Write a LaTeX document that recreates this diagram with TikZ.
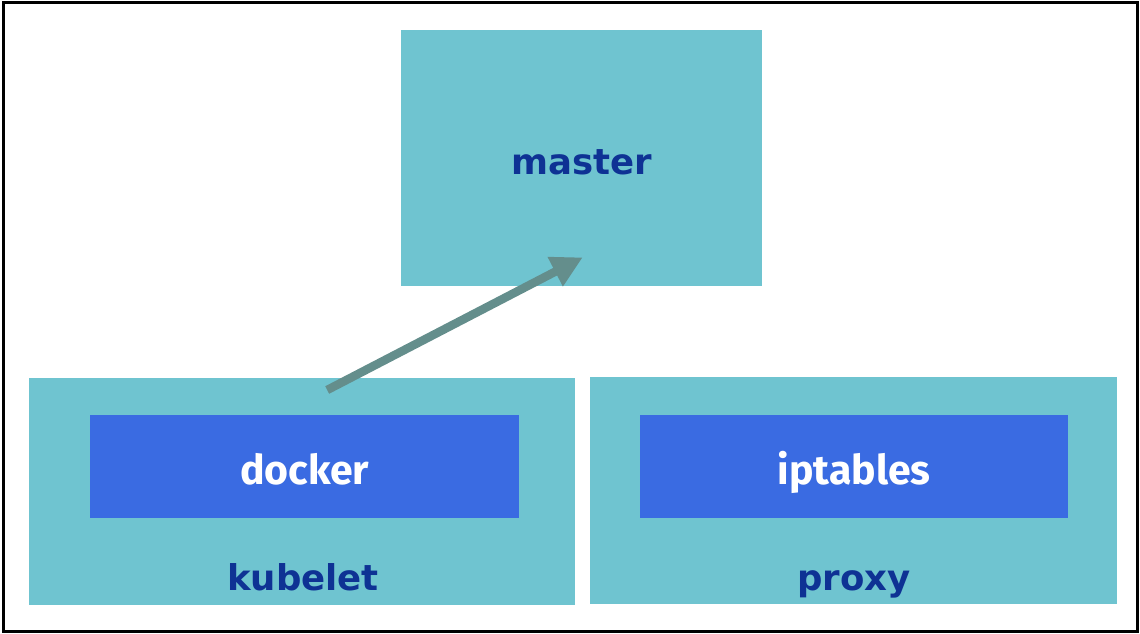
\documentclass[tikz,border=0pt]{standalone}
\usepackage{fontspec}
\usepackage{xcolor}
\usetikzlibrary{arrows.meta, calc, positioning}
\newfontfamily\labelfont{DejaVu Sans}
\newfontfamily\innerfont{Fira Sans}
\definecolor{boxteal}{RGB}{111,196,208}
\definecolor{innerblue}{RGB}{58,107,226}
\definecolor{labelnavy}{RGB}{14,50,148}
\definecolor{arrowgray}{RGB}{100,142,140}

\begin{document}
\begin{tikzpicture}[x=1pt, y=-1pt,
  outerbox/.style={fill=boxteal, draw=none, inner sep=0pt, anchor=north west},
  innerbox/.style={fill=innerblue, draw=none, inner sep=0pt, anchor=north west,
    text height=35pt, text depth=0pt,
    text=white, font=\innerfont\bfseries\fontsize{41}{46}\selectfont},
  navylabel/.style={text=labelnavy, text height=32pt, text depth=0pt,
    font=\labelfont\bfseries\fontsize{35.5}{40}\selectfont}]
\useasboundingbox (0,0) rectangle (1140,634);

% Frame
\draw[black, line width=3pt] (3,3) rectangle (1137,631);

% Master
\node[outerbox, navylabel, minimum width=361pt, minimum height=256pt] (master) at (401,30) {master};

% Kubelet with docker
\node[outerbox, minimum width=546pt, minimum height=227pt] (kubelet) at (29,378) {};
\node[innerbox, minimum width=429pt, minimum height=103pt] (docker) at (90,415) {docker};
\node[navylabel, anchor=base] (kubeletlabel) at (303,590) {kubelet};

% Proxy with iptables
\node[outerbox, minimum width=527pt, minimum height=227pt] (proxy) at (590,377) {};
\node[innerbox, minimum width=428pt, minimum height=103pt] (iptables) at (640,415) {iptables};
\node[navylabel, anchor=base] (proxylabel) at (854,590) {proxy};

% Kubelet reports to master
\coordinate (reportstart) at ($(kubelet.north)+(25,12)$);
\coordinate (reportend) at ($(master.south)+(1,-29)$);
\draw[arrowgray, line width=8.5pt, -{Triangle[length=31pt, width=31pt]}] (reportstart) -- (reportend);

\end{tikzpicture}
\end{document}
